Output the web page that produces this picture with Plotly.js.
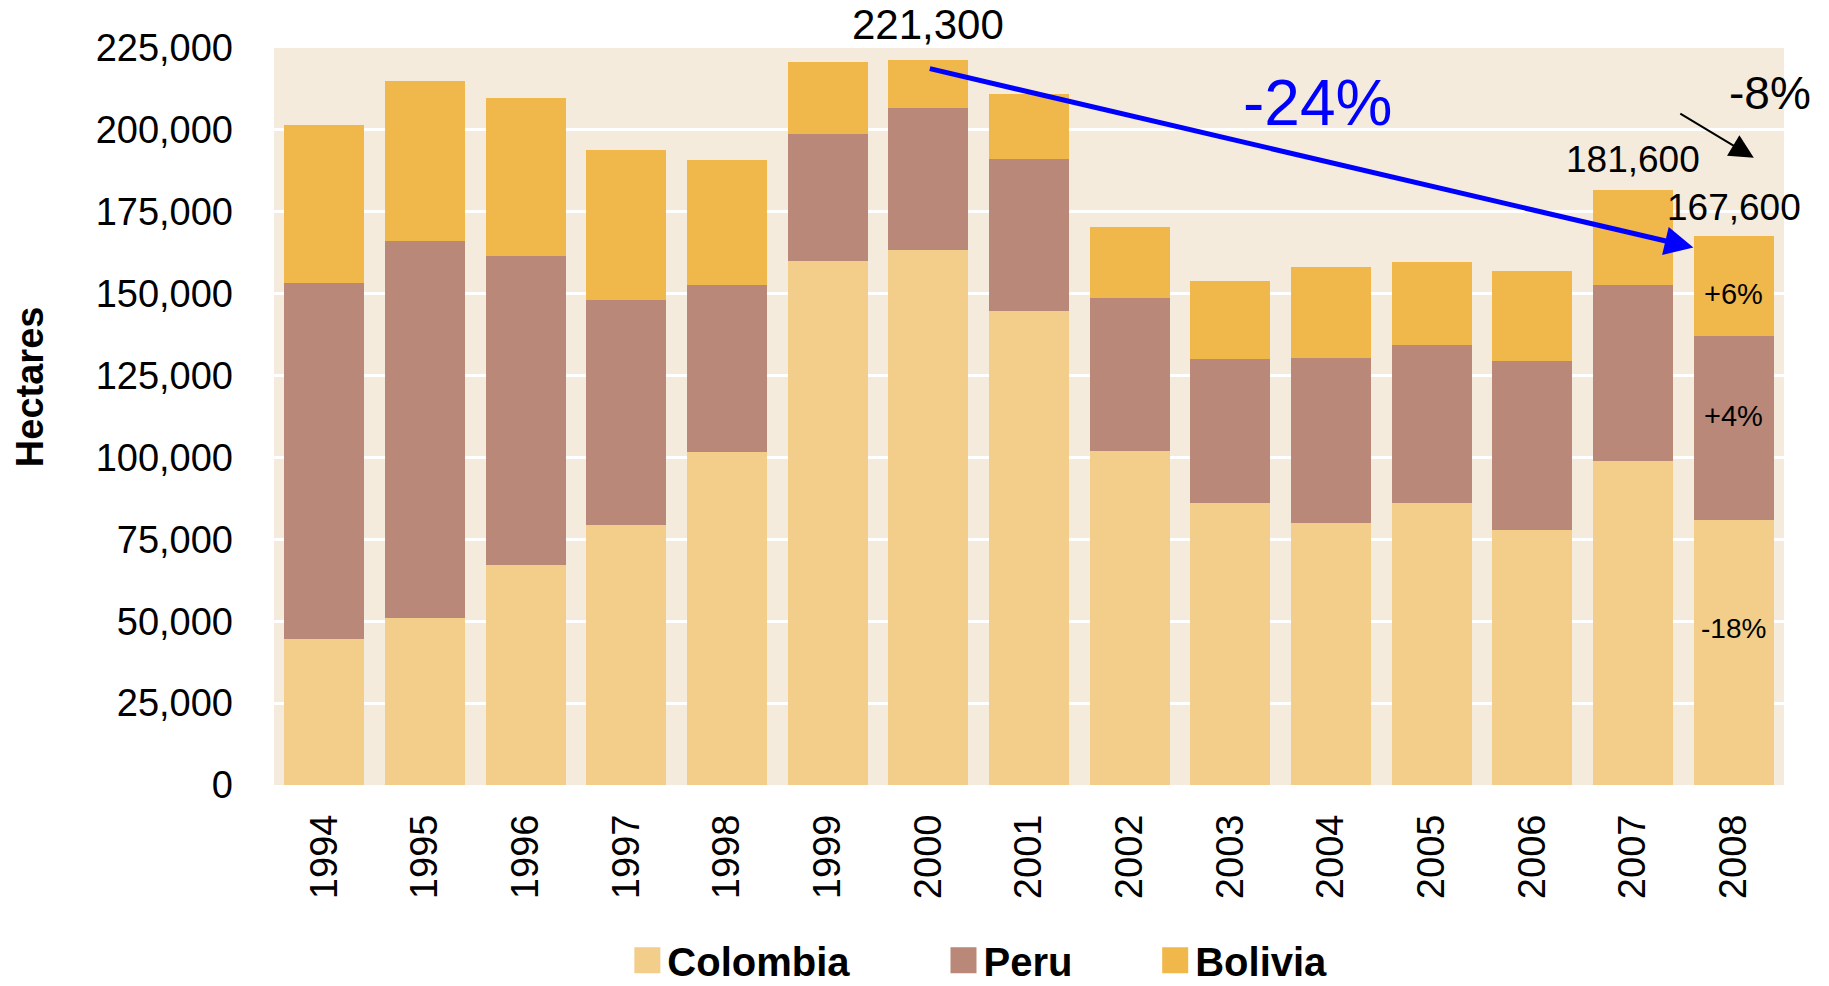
<!DOCTYPE html>
<html>
<head>
<meta charset="utf-8">
<script src="https://cdn.plot.ly/plotly-3.0.1.min.js"></script>
<style>
  html, body { margin: 0; padding: 0; background: #ffffff; }
  #cocaPlot { width: 1829px; height: 986px; }
</style>
</head>
<body>
<div id="cocaPlot"></div>
<script>
const COCA = document.getElementById("cocaPlot");

// hectares of coca cultivation
var years = ["1994", "1995", "1996", "1997", "1998", "1999", "2000", "2001",
             "2002", "2003", "2004", "2005", "2006", "2007", "2008"];
var colombia = [44700, 50900, 67200, 79400, 101800, 160100, 163300, 144800,
                102000, 86000, 80000, 86000, 78000, 99000, 81000];
var peru = [108600, 115300, 94400, 68800, 51000, 38700, 43400, 46200,
            46700, 44200, 50300, 48200, 51400, 53700, 56100];
var bolivia = [48100, 48600, 48100, 45800, 38000, 21800, 14600, 19900,
               21600, 23600, 27700, 25400, 27500, 28900, 30500];
var yTicks = [0, 25000, 50000, 75000, 100000, 125000, 150000, 175000, 200000, 225000];

var names = ["Colombia", "Peru", "Bolivia"];
var colors = ["#F2CE8A", "#B98879", "#F0B84A"];

var totals = years.map((y, i) => colombia[i] + peru[i] + bolivia[i]);
var last = years.length - 1;

// pad legend names so the entries spread out like the original
var pad = (n) => "\u00a0".repeat(n);

var traces = [colombia, peru, bolivia].map((vals, k) => ({
    type: "bar",
    name: names[k] + (k == 0 ? pad(8) : k == 1 ? pad(7) : ""),
    x: years,
    y: vals,
    marker: {color: colors[k], line: {width: 0}},
    hoverinfo: "x+y+name"
}));

var font = "Liberation Sans, Arial, sans-serif";

var notes = [
    // axis title, placed by hand like the original
    {xref: "paper", yref: "paper", x: -0.1615, y: 0.54, xanchor: "center", yanchor: "middle",
     textangle: -90, showarrow: false, text: "<b>Hectares</b>", font: {size: 38, color: "#000"}},
    // peak total in 2000
    {x: 6, y: totals[6], yanchor: "bottom", yshift: 10, showarrow: false,
     text: totals[6].toLocaleString("en-US"), font: {size: 42, color: "#000"}},
    {x: 13, y: totals[13], yanchor: "bottom", yshift: 8, showarrow: false,
     text: totals[13].toLocaleString("en-US"), font: {size: 37, color: "#000"}},
    {x: last, y: totals[last], yanchor: "bottom", yshift: 6, showarrow: false,
     text: totals[last].toLocaleString("en-US"), font: {size: 37, color: "#000"}},
    // country changes 2007 -> 2008
    {x: last, y: colombia[last] + peru[last] + bolivia[last] / 2, yshift: -8,
     showarrow: false, text: "+6%", font: {size: 29, color: "#000"}},
    {x: last, y: colombia[last] + peru[last] / 2, yshift: 12,
     showarrow: false, text: "+4%", font: {size: 29, color: "#000"}},
    {x: last, y: colombia[last] / 2, yshift: 24,
     showarrow: false, text: "-18%", font: {size: 28, color: "#000"}},
    // 2000 -> 2008 trend
    {x: last - 0.4, y: totals[last] - 3500, ax: 6, ay: totals[6] - 2500,
     xref: "x", yref: "y", axref: "x", ayref: "y", text: "",
     showarrow: true, arrowhead: 2, arrowsize: 1.15, arrowwidth: 5, arrowcolor: "#0000FF",
     standoff: 0, startstandoff: 0},
    {xref: "paper", yref: "paper", x: 0.691, y: 0.926, xanchor: "center", yanchor: "middle",
     showarrow: false, text: "-24%", font: {size: 64, color: "#0000FF"}},
    // 2007 -> 2008 total
    {xref: "paper", yref: "paper", x: 0.991, y: 0.939, xanchor: "center", yanchor: "middle",
     showarrow: false, text: "-8%", font: {size: 46, color: "#000"}},
    {xref: "paper", yref: "paper", x: 0.980, y: 0.851, ax: -75, ay: -45,
     text: "", showarrow: true, arrowhead: 2, arrowsize: 2.4, arrowwidth: 2,
     arrowcolor: "#000", standoff: 0}
];

Plotly.newPlot(COCA, traces, {
    width: 1829,
    height: 986,
    margin: {l: 274, r: 45, t: 48, b: 201},
    paper_bgcolor: "#ffffff",
    plot_bgcolor: "#F4EBDD",
    barmode: "stack",
    bargap: 0.205,
    font: {family: font, size: 38, color: "#000"},
    xaxis: {
        type: "category",
        range: [-0.5, years.length - 0.5],
        autorange: false,
        automargin: false,
        tickangle: -90,
        ticks: "",
        ticklabelstandoff: 21,
        showgrid: false,
        zeroline: false,
        showline: false,
        tickfont: {size: 38}
    },
    yaxis: {
        range: [0, 225000],
        autorange: false,
        automargin: false,
        tickvals: yTicks,
        tickformat: ",.0f",
        ticks: "",
        ticklabelstandoff: 40,
        showgrid: true,
        gridcolor: "#ffffff",
        gridwidth: 3,
        zeroline: false,
        showline: false,
        tickfont: {size: 38}
    },
    legend: {
        orientation: "h",
        xref: "container",
        yref: "container",
        x: 0.343,
        xanchor: "left",
        y: 0.026,
        yanchor: "middle",
        font: {size: 40, family: font, weight: "bold"},
        traceorder: "normal"
    },
    annotations: notes,
    showlegend: true
}, {displayModeBar: false, staticPlot: true}).then(() => {
    // bigger legend swatches
    COCA.querySelectorAll(".legendpoints path").forEach((p) => {
        p.setAttribute("d", "M13,13H-13V-13H13Z");
    });
});
</script>
</body>
</html>
